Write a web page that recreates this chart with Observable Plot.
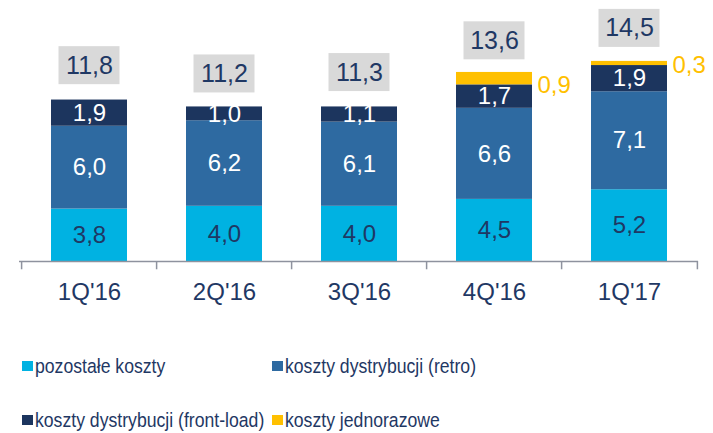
<!DOCTYPE html>
<html>
<head>
<meta charset="utf-8">
<script src="https://cdn.jsdelivr.net/npm/d3@7"></script>
<script src="https://cdn.jsdelivr.net/npm/@observablehq/plot@0.6"></script>
<style>
  body { margin: 0; background: #fff; font-family: "Liberation Sans", Arial, sans-serif; }
  #chart svg { display: block; }
  #legend { position: relative; width: 713px; height: 103px; }
  .item { position: absolute; display: flex; align-items: center; height: 24px; font-size: 20.5px; color: #1F3864; white-space: nowrap; }
  .sw { width: 11px; height: 10px; margin-right: 2px; flex: none; }
  .tx { display: inline-block; transform: scaleX(0.86); transform-origin: left center; }
</style>
</head>
<body>
<div id="chart"></div>
<div id="legend"></div>
<script>
const quarters = ["1Q'16", "2Q'16", "3Q'16", "4Q'16", "1Q'17"];
const seriesNames = ["pozostałe koszty", "koszty dystrybucji (retro)", "koszty dystrybucji (front-load)", "koszty jednorazowe"];
const seriesColors = ["#00B2E2", "#2E6AA1", "#1C355E", "#FFC000"];
const labelColors = ["#1F3864", "#FFFFFF", "#FFFFFF", "#FFC000"];
const pozostale = [3.8, 4.0, 4.0, 4.5, 5.2];
const retro = [6.0, 6.2, 6.1, 6.6, 7.1];
const frontLoad = [1.9, 1.0, 1.1, 1.7, 1.9];
const jednorazowe = [0, 0, 0, 0.9, 0.3];
const totals = [11.8, 11.2, 11.3, 13.6, 14.5];

const seriesValues = [pozostale, retro, frontLoad, jednorazowe];
const fmt = v => v.toFixed(1).replace(".", ",");

// long table with cumulative bounds
const rows = [];
quarters.forEach((q, i) => {
  let acc = 0;
  seriesValues.forEach((vals, s) => {
    const v = vals[i];
    rows.push({q, series: seriesNames[s], s, value: v, y1: acc, y2: acc + v, mid: acc + v / 2});
    acc += v;
  });
});
const totalRows = quarters.map((q, i) => ({q, total: totals[i]}));

const W = 713, H = 330, mL = 19, mR = 15, mB = 69;
const step = (W - mL - mR) / quarters.length;
const axisColor = "#8E929E";

const chart = Plot.plot({
  width: W, height: H,
  marginLeft: mL, marginRight: mR, marginTop: 0, marginBottom: mB,
  style: {fontFamily: "'Liberation Sans', Arial, sans-serif", background: "#fff"},
  x: {domain: quarters, paddingInner: 0.44, paddingOuter: 0.22, axis: null},
  y: {domain: [0, 18.913], axis: null},
  color: {domain: seriesNames, range: seriesColors},
  marks: [
    Plot.barY(rows.filter(d => d.value > 0), {x: "q", y1: "y1", y2: "y2", fill: "series"}),
    // segment labels (in-bar)
    Plot.text(rows.filter(d => d.value > 0 && d.s < 3), {
      x: "q", y: "mid", text: d => fmt(d.value),
      fill: d => labelColors[d.s], fontSize: 24
    }),
    // one-off cost labels to the right
    Plot.text(rows.filter(d => d.value > 0 && d.s === 3), {
      x: "q", y: "y1", text: d => fmt(d.value),
      fill: labelColors[3], fontSize: 24, textAnchor: "start", dx: 43
    }),
    // total boxes
    Plot.barY(totalRows, {x: "q", y1: "total", y2: "total", fill: "#D9D9D9",
      insetTop: -52, insetBottom: 14, insetLeft: 7.5, insetRight: 7.5}),
    Plot.text(totalRows, {x: "q", y: "total", text: d => fmt(d.total),
      dy: -33, fill: "#1F3864", fontSize: 25}),
    // baseline & boundary ticks
    Plot.ruleY([0], {stroke: axisColor, strokeWidth: 1.5}),
    Plot.ruleX(quarters, {x: d => d, y1: 0, y2: -0.6, dx: -step / 2, stroke: axisColor, strokeWidth: 1.5}),
    Plot.ruleX([quarters[quarters.length - 1]], {x: d => d, y1: 0, y2: -0.6, dx: step / 2, stroke: axisColor, strokeWidth: 1.5}),
    Plot.axisX({tickSize: 0, tickPadding: 21, fontSize: 24, fill: "#1F3864", label: null})
  ]
});
document.getElementById("chart").appendChild(chart);

// legend
const legendPos = [[22, 24], [272, 24], [22, 78], [272, 78]];
const legend = document.getElementById("legend");
seriesNames.forEach((name, i) => {
  const it = document.createElement("div");
  it.className = "item";
  it.style.left = legendPos[i][0] + "px";
  it.style.top = legendPos[i][1] + "px";
  const sw = document.createElement("div");
  sw.className = "sw";
  sw.style.background = seriesColors[i];
  const tx = document.createElement("span");
  tx.className = "tx";
  tx.textContent = name;
  it.appendChild(sw);
  it.appendChild(tx);
  legend.appendChild(it);
});
</script>
</body>
</html>
